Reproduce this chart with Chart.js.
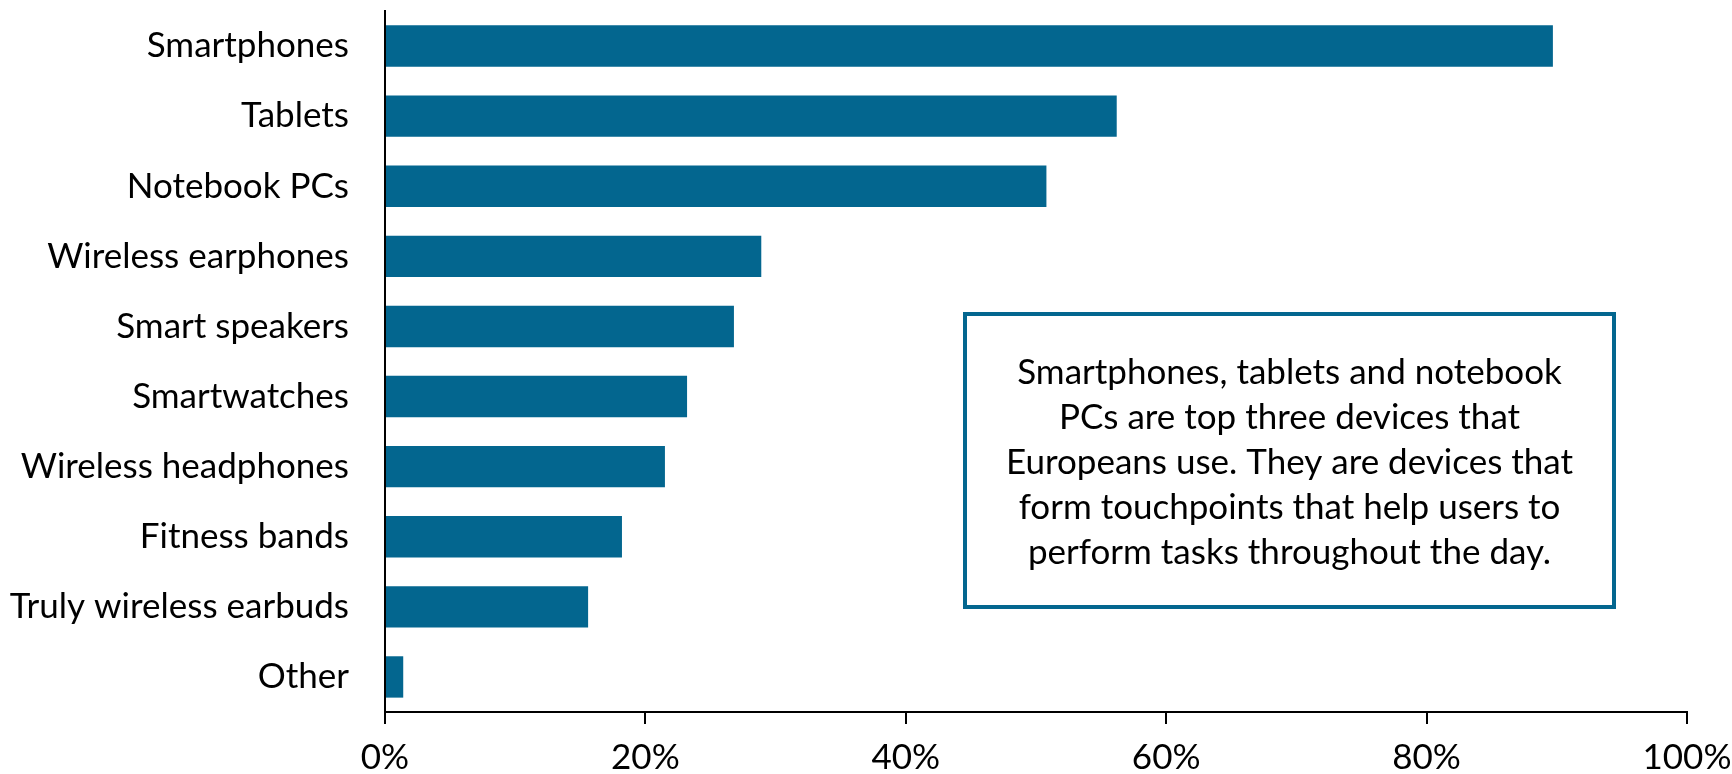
<!DOCTYPE html>
<html>
<head>
<meta charset="utf-8">
<title>Devices used</title>
<script src="https://cdn.jsdelivr.net/npm/chart.js@4/dist/chart.umd.min.js"></script>
<style>
  html, body { margin: 0; padding: 0; background: #fff; }
  #wrap { position: relative; width: 1732px; height: 774px; }
</style>
</head>
<body>
<div id="wrap"><canvas id="devices"></canvas></div>
<script>
  /* ---------- data ---------- */
  var categories = ['Smartphones', 'Tablets', 'Notebook PCs', 'Wireless earphones', 'Smart speakers',
    'Smartwatches', 'Wireless headphones', 'Fitness bands', 'Truly wireless earbuds', 'Other'];
  var shares = [89.7, 56.2, 50.8, 28.9, 26.8, 23.2, 21.5, 18.2, 15.6, 1.4];
  var xTicks = [0, 20, 40, 60, 80, 100];
  var noteLines = [
    'Smartphones, tablets and notebook',
    'PCs are top three devices that',
    'Europeans use. They are devices that',
    'form touchpoints that help users to',
    'perform tasks throughout the day.'
  ];

  var BLUE = '#03668f';
  var FONT = "Lato, 'Open Sans', sans-serif";
  var FSIZE = 35;

  /* ---------- callout box (drawn on the canvas after the bars) ---------- */
  var noteBox = {
    id: 'noteBox',
    afterDraw: function (chart) {
      var ctx = chart.ctx;
      var x0 = 965, y0 = 314, x1 = 1614, y1 = 607;
      ctx.save();
      ctx.fillStyle = '#fff';
      ctx.fillRect(x0, y0, x1 - x0, y1 - y0);
      ctx.lineWidth = 4;
      ctx.strokeStyle = BLUE;
      ctx.strokeRect(x0, y0, x1 - x0, y1 - y0);
      ctx.fillStyle = '#000';
      ctx.font = FSIZE + 'px ' + FONT;
      ctx.textAlign = 'center';
      ctx.textBaseline = 'middle';
      var cx = (x0 + x1) / 2;
      noteLines.forEach(function (line, i) {
        ctx.fillText(line, cx, 373 + i * 45);
      });
      ctx.restore();
    }
  };

  new Chart(document.getElementById('devices'), {
    type: 'bar',
    data: {
      labels: categories,
      datasets: [{
        data: shares,
        backgroundColor: BLUE,
        borderWidth: 0,
        categoryPercentage: 1,
        barPercentage: 0.59
      }]
    },
    options: {
      indexAxis: 'y',
      responsive: true,
      maintainAspectRatio: false,
      animation: false,
      events: [],
      layout: { padding: { top: 11, right: 45, left: 0, bottom: 0 } },
      plugins: { legend: { display: false }, tooltip: { enabled: false } },
      scales: {
        x: {
          min: 0, max: 100,
          afterBuildTicks: function (scale) {
            scale.ticks = xTicks.map(function (v) { return { value: v }; });
          },
          afterFit: function (scale) {
            scale.height = 62;
            scale.paddingLeft = 0;
            scale.paddingRight = 0;
          },
          grid: { display: true, drawOnChartArea: false, drawTicks: true, tickLength: 12, color: '#000', lineWidth: 2 },
          border: { display: true, color: '#000', width: 2 },
          ticks: {
            padding: 13, color: '#000', maxRotation: 0,
            font: { family: FONT, size: FSIZE },
            callback: function (v) { return v + '%'; }
          }
        },
        y: {
          afterFit: function (scale) {
            scale.width = 385;
            scale.paddingTop = 0;
            scale.paddingBottom = 0;
          },
          grid: { display: false },
          border: { display: true, color: '#000', width: 2 },
          ticks: { padding: 28, color: '#000', font: { family: FONT, size: FSIZE } }
        }
      }
    },
    plugins: [noteBox]
  });
</script>
</body>
</html>
